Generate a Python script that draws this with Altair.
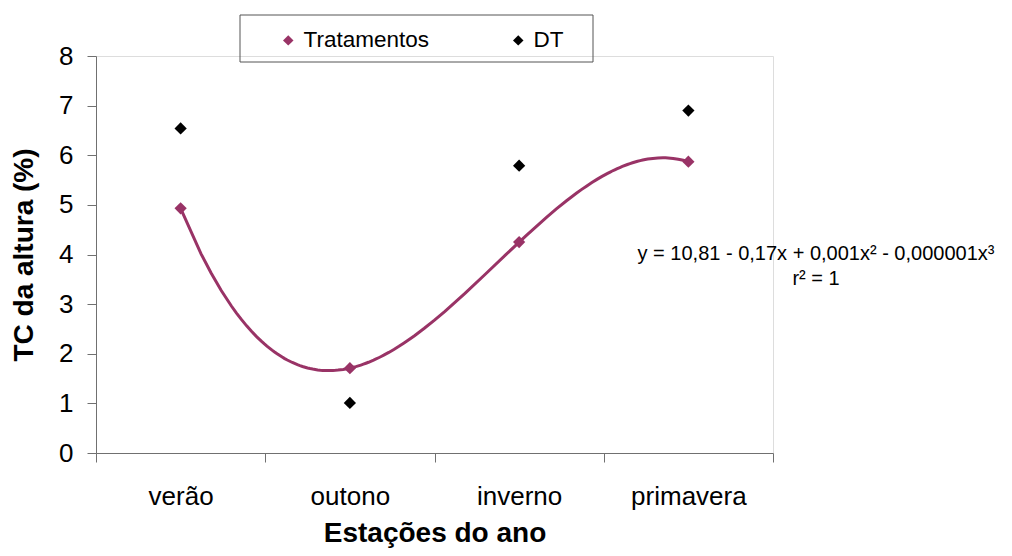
import altair as alt
import pandas as pd

seasons = ["verão", "outono", "inverno", "primavera"]
tratamentos = [4.93, 1.71, 4.25, 5.87]
dt = [6.54, 1.01, 5.79, 6.90]
series_names = ["Tratamentos", "DT"]
series_colors = ["#993366", "#000000"]
y_ticks = [0, 1, 2, 3, 4, 5, 6, 7, 8]
equation_lines = ["y = 10,81 - 0,17x + 0,001x² - 0,000001x³", "r² = 1"]

FONT = "Liberation Sans"

idx = [i + 1 for i in range(len(seasons))]
line_df = pd.DataFrame({"idx": idx, "value": tratamentos})
pts_df = pd.DataFrame({
    "idx": idx * 2,
    "value": tratamentos + dt,
    "series": ["Tratamentos"] * len(seasons) + ["DT"] * len(seasons),
})

# axis positions: category centres (labels) and band edges (ticks)
n = len(seasons)
x_values = [k / 2 for k in range(1, 2 * n + 2)]
season_js = "[" + ",".join("'" + s + "'" for s in seasons) + "]"
label_expr = f"datum.value % 1 === 0 ? {season_js}[datum.value - 1] : ''"

x_enc = alt.X(
    "idx:Q",
    scale=alt.Scale(domain=[0.5, n + 0.5], nice=False, zero=False),
    axis=alt.Axis(
        title="Estações do ano",
        values=x_values,
        labelExpr=label_expr,
        labelOverlap=False,
        labelFlush=False,
        grid=False,
        labelAngle=0,
        labelFont=FONT,
        labelFontSize=26,
        labelColor="#000000",
        labelPadding=21,
        tickSize=9,
        tickOpacity={"condition": {"test": "datum.value % 1 === 0", "value": 0}, "value": 1},
        tickColor="#707070",
        domainColor="#707070",
        titleFont=FONT,
        titleFontSize=28,
        titleFontWeight="bold",
        titleColor="#000000",
        titlePadding=10,
    ),
)
y_enc = alt.Y(
    "value:Q",
    scale=alt.Scale(domain=[0, 8], nice=False, zero=True),
    axis=alt.Axis(
        title="TC da altura (%)",
        values=y_ticks,
        grid=False,
        labelFont=FONT,
        labelFontSize=26,
        labelColor="#000000",
        labelPadding=14,
        tickSize=9,
        tickColor="#707070",
        domainColor="#707070",
        titleFont=FONT,
        titleFontSize=28,
        titleFontWeight="bold",
        titleColor="#000000",
        titlePadding=20,
    ),
)

# cubic trendline fitted by Vega's own regression transform
line = alt.Chart(line_df).transform_regression(
    "idx", "value", method="poly", order=3
).mark_line(color="#993366", strokeWidth=3).encode(x=x_enc, y=y_enc)

points = alt.Chart(pts_df).mark_point(
    shape="diamond", filled=True, size=150, opacity=1
).encode(
    x=x_enc,
    y=y_enc,
    color=alt.Color(
        "series:N",
        scale=alt.Scale(domain=series_names, range=series_colors),
        legend=alt.Legend(
            title=None,
            orient="none",
            legendX=181,
            legendY=-27,
            direction="horizontal",
            symbolType="diamond",
            symbolSize=110,
            labelFont=FONT,
            labelFontSize=22.5,
            labelColor="#000000",
            labelOffset=4,
            columnPadding=78,
            padding=0,
        ),
    ),
)

box_df = pd.DataFrame({"k": [0]})
box = alt.Chart(box_df).mark_rect(
    fill="#ffffff", fillOpacity=0, stroke="#555555", strokeWidth=1
).encode(
    x=alt.value(144), x2=alt.value(497), y=alt.value(-41), y2=alt.value(6)
)

eq_df = pd.DataFrame({"k": [0]})
eq1 = alt.Chart(eq_df).mark_text(
    font=FONT, fontSize=20, align="center", baseline="middle", color="#000000"
).encode(x=alt.value(720), y=alt.value(198), text=alt.value(equation_lines[0]))
eq2 = alt.Chart(eq_df).mark_text(
    font=FONT, fontSize=20, align="center", baseline="middle", color="#000000"
).encode(x=alt.value(720), y=alt.value(223), text=alt.value(equation_lines[1]))

chart = alt.layer(box, line, points, eq1, eq2).properties(
    width=677,
    height=397,
    autosize=alt.AutoSizeParams(type="none"),
    padding={"left": 88, "top": 48, "right": 231, "bottom": 95},
).configure_view(stroke=None).configure(background="#ffffff")

chart.save("out.html", embed_options={"renderer": "svg", "actions": False})
